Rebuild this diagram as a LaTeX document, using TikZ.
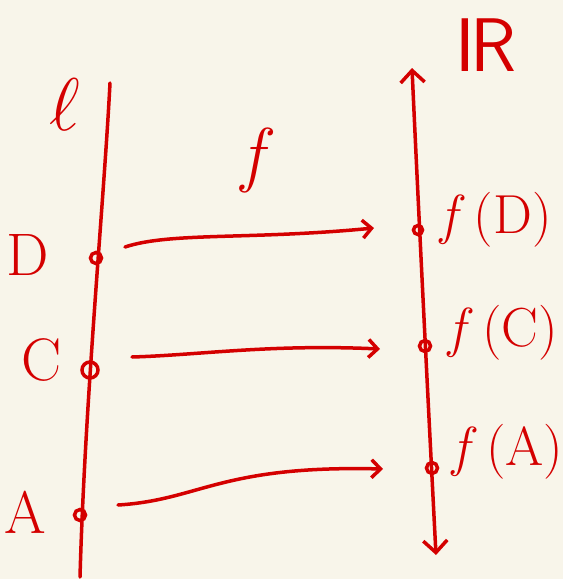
\documentclass[tikz,border=0pt]{standalone}
\usepackage{fontspec}
\usepackage{graphicx}
\usetikzlibrary{arrows.meta}
\definecolor{bg}{HTML}{F8F5EA}
\definecolor{ink}{HTML}{D40000}
\begin{document}
\begin{tikzpicture}[x=1pt,y=-1pt,
  ink/.style={draw=ink,line width=3.5pt,line cap=round,line join=round},
  pt/.style={circle,draw=ink,line width=3.5pt,inner sep=0pt,minimum size=11pt},
  lbl/.style={text=ink,font=\fontsize{60}{60}\selectfont,inner sep=0pt},
  rlbl/.style={text=ink,font=\fontsize{55}{55}\selectfont,inner sep=0pt},
  tip/.style={-{Straight Barb[length=9pt,width=18pt,line width=3.5pt]}}]
\fill[bg] (0,0) rectangle (563,579);
\useasboundingbox (0,0) rectangle (563,579);
% left line
\coordinate (ltop) at (110,83);
\coordinate (lbot) at (80,577);
\draw[ink] (ltop) .. controls (104,200) and (85,400) .. (lbot);
\node[pt] (D) at (96,258) {};
\node[pt,minimum width=10pt,minimum height=16pt] (C) at (90,370) {};
\node[pt] (A) at (80,515) {};
\node[lbl] (ell) at (65,105) {\scalebox{3}{$\ell$}};
\node[lbl] (lD) at (28,255) {D};
\node[lbl] (lC) at (42,360) {C};
\node[lbl] (lA) at (25,512) {A};
\node[lbl,font=\fontsize{72}{72}\selectfont\itshape] (lf) at (252,160) {f};
% right line
\coordinate (rtop) at (412,68);
\coordinate (rbot) at (436,555);
\draw[ink,{Straight Barb[length=12pt,width=24pt,line width=3.5pt]}-{Straight Barb[length=12pt,width=24pt,line width=3.5pt]}] (rtop) .. controls (418,200) and (428,400) .. (rbot);
\node[lbl,font=\fontsize{76}{76}\selectfont\sffamily] (R) at (486,45) {I\kern-5pt R};
\node[pt,minimum size=9pt] (fD) at (418,230) {};
\node[pt] (fC) at (425,346) {};
\node[pt] (fA) at (432,468) {};
\node[rlbl] (lfD) at (496,220) {\textit{f}\,(D)};
\node[rlbl] (lfC) at (503,333) {\textit{f}\,(C)};
\node[rlbl] (lfA) at (508,452) {\textit{f}\,(A)};
% arrows
\coordinate (s1) at (125,247);
\coordinate (e1) at (374,228);
\draw[ink,tip] (s1) .. controls (170,232) and (250,240) .. (e1);
\coordinate (s2) at (132,357);
\coordinate (e2) at (380,349);
\draw[ink,tip] (s2) .. controls (200,355) and (270,344) .. (e2);
\coordinate (s3) at (118,505);
\coordinate (e3) at (383,469);
\draw[ink,tip] (s3) .. controls (200,500) and (220,465) .. (e3);
\end{tikzpicture}
\end{document}
